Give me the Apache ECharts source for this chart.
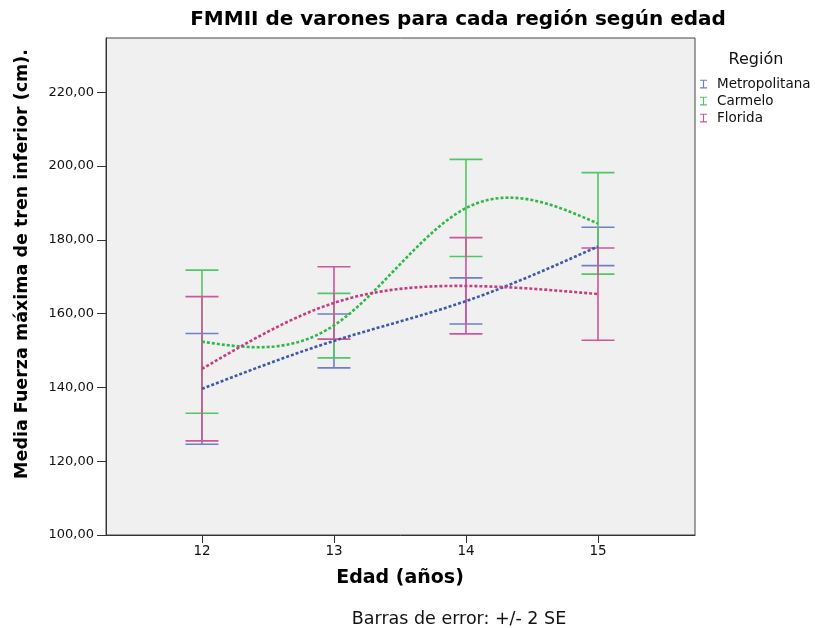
<!DOCTYPE html>
<html>
<head>
<meta charset="utf-8">
<title>FMMII de varones</title>
<script src="https://cdn.jsdelivr.net/npm/echarts@6/dist/echarts.min.js"></script>
<style>
  html, body { margin: 0; padding: 0; background: #fff; }
  #chart { width: 815px; height: 628px; }
</style>
</head>
<body>
<div id="chart"></div>
<script>
// edades (eje x)
var edades = [12, 13, 14, 15];
var regiones = ['Metropolitana', 'Carmelo', 'Florida'];

// medias por región
var mediaMetro = [139.6, 152.6, 163.4, 178.2];
var mediaCarmelo = [152.4, 156.8, 188.6, 184.4];
var mediaFlorida = [145.0, 162.9, 167.5, 165.3];

// extremos de las barras de error (+/- 2 SE)
var infMetro = [124.6, 145.3, 157.2, 173.0];
var supMetro = [154.6, 159.9, 169.7, 183.4];
var infCarmelo = [133.0, 148.0, 175.5, 170.7];
var supCarmelo = [171.8, 165.5, 201.8, 198.2];
var infFlorida = [125.5, 153.1, 154.5, 152.8];
var supFlorida = [164.6, 172.7, 180.6, 177.8];

var yTicks = [100, 120, 140, 160, 180, 200, 220];
var xTicks = [12, 13, 14, 15];

var colLinea = ['#3E58AC', '#2EB848', '#C83C82'];
var colBarra = ['#6F7FC6', '#52C664', '#D0559A'];
var fuente = 'DejaVu Sans, Verdana, sans-serif';

var fmt = function (v) {
    return v.toFixed(2).replace('.', ',');
};

var puntos = function (medias) {
    return edades.map(function (e, i) { return [e, medias[i]]; });
};
var barras = function (inf, sup) {
    return edades.map(function (e, i) { return [e, inf[i], sup[i]]; });
};

/**
 * segundas derivadas del spline cúbico natural (como la interpolación de SPSS)
 */
var derivadas = function (xs, ys) {
    var n = xs.length, M = new Array(n).fill(0);
    if (n < 3) return M;
    var a = [], b = [], c = [], d = [];
    for (var i = 1; i < n - 1; i++) {
        var h0 = xs[i] - xs[i - 1], h1 = xs[i + 1] - xs[i];
        a.push(h0); b.push(2 * (h0 + h1)); c.push(h1);
        d.push(6 * ((ys[i + 1] - ys[i]) / h1 - (ys[i] - ys[i - 1]) / h0));
    }
    var m = b.length;
    for (var j = 1; j < m; j++) {
        var w = a[j] / b[j - 1];
        b[j] -= w * c[j - 1];
        d[j] -= w * d[j - 1];
    }
    var sol = new Array(m);
    sol[m - 1] = d[m - 1] / b[m - 1];
    for (var k = m - 2; k >= 0; k--) sol[k] = (d[k] - c[k] * sol[k + 1]) / b[k];
    for (var t = 0; t < m; t++) M[t + 1] = sol[t];
    return M;
};

/**
 * dibuja la curva de medias entera en el primer elemento
 */
var renderCurva = function (color, medias) {
    var M = derivadas(edades, medias);
    return function (params, api) {
        if (params.dataIndex !== 0) return { type: 'group', children: [] };
        var pts = [];
        for (var i = 0; i < edades.length - 1; i++) {
            var x0 = edades[i], x1 = edades[i + 1], h = x1 - x0;
            var pasos = 40;
            for (var s = (i === 0 ? 0 : 1); s <= pasos; s++) {
                var x = x0 + h * s / pasos;
                var A = (x1 - x) / h, B = (x - x0) / h;
                var y = A * medias[i] + B * medias[i + 1] +
                    ((A * A * A - A) * M[i] + (B * B * B - B) * M[i + 1]) * h * h / 6;
                pts.push(api.coord([x, y]));
            }
        }
        return {
            type: 'polyline',
            shape: { points: pts },
            style: { stroke: color, lineWidth: 2.6, fill: null, lineDash: [3, 2] }
        };
    };
};

/**
 * dibuja una barra de error con sus topes
 */
var renderBarra = function (color) {
    return function (params, api) {
        var x = api.value(0);
        var a = api.coord([x, api.value(1)]);
        var b = api.coord([x, api.value(2)]);
        var w = 16.5;
        var st = { stroke: color, lineWidth: 1.6 };
        return {
            type: 'group',
            children: [
                { type: 'line', shape: { x1: a[0], y1: a[1], x2: b[0], y2: b[1] }, style: st },
                { type: 'line', shape: { x1: a[0] - w, y1: a[1], x2: a[0] + w, y2: a[1] }, style: st },
                { type: 'line', shape: { x1: b[0] - w, y1: b[1], x2: b[0] + w, y2: b[1] }, style: st }
            ]
        };
    };
};

var medias = [mediaMetro, mediaCarmelo, mediaFlorida];
var infs = [infMetro, infCarmelo, infFlorida];
var sups = [supMetro, supCarmelo, supFlorida];

var series = [];
regiones.forEach(function (r, k) {
    series.push({
        name: r,
        type: 'custom',
        renderItem: renderBarra(colBarra[k]),
        itemStyle: { color: colBarra[k] },
        encode: { x: 0, y: [1, 2] },
        data: barras(infs[k], sups[k]),
        z: 2
    });
});
regiones.forEach(function (r, k) {
    series.push({
        name: r,
        type: 'custom',
        renderItem: renderCurva(colLinea[k], medias[k]),
        itemStyle: { color: colBarra[k] },
        encode: { x: 0, y: 1 },
        data: puntos(medias[k]),
        z: 3
    });
});

var iconoI = 'path://M0,0H8V1.3H4.65V8.7H8V10H0V8.7H3.35V1.3H0Z';

var myChart = echarts.init(document.getElementById('chart'));
var option = {
    animation: false,
    textStyle: { fontFamily: fuente },
    legend: {
        orient: 'vertical',
        left: 700,
        top: 77,
        padding: 0,
        itemWidth: 7,
        itemHeight: 10,
        itemGap: 3,
        selectedMode: false,
        textStyle: { fontSize: 13.5, lineHeight: 14, color: '#111', fontFamily: fuente, padding: [0, 0, 0, 5] },
        data: regiones.map(function (r, k) {
            return { name: r, icon: iconoI, itemStyle: { color: colBarra[k] } };
        })
    },
    graphic: [
        {
            type: 'text', x: 458, y: 20,
            style: {
                text: 'FMMII de varones para cada región según edad', fontSize: 20, fontWeight: 'bold',
                fill: '#000', fontFamily: fuente, align: 'center', verticalAlign: 'middle'
            }
        },
        {
            type: 'text', x: 756, y: 60,
            style: { text: 'Región', fontSize: 16, fill: '#111', fontFamily: fuente, align: 'center', verticalAlign: 'middle' }
        },
        {
            type: 'text', x: 22, y: 264, rotation: Math.PI / 2,
            style: {
                text: 'Media Fuerza máxima de tren inferior (cm).', fontSize: 17.5, fontWeight: 'bold',
                fill: '#000', fontFamily: fuente, align: 'center', verticalAlign: 'middle'
            }
        },
        {
            type: 'text', x: 400, y: 578,
            style: { text: 'Edad (años)', fontSize: 19, fontWeight: 'bold', fill: '#000', fontFamily: fuente, align: 'center', verticalAlign: 'middle' }
        },
        {
            type: 'text', x: 459, y: 619,
            style: { text: 'Barras de error: +/- 2 SE', fontSize: 17.5, fill: '#111', fontFamily: fuente, align: 'center', verticalAlign: 'middle' }
        }
    ],
    grid: {
        left: 106,
        right: 120,
        top: 38,
        bottom: 93,
        show: true,
        backgroundColor: '#f0f0f0',
        borderColor: '#444',
        borderWidth: 1
    },
    xAxis: {
        type: 'value',
        min: 11.273,
        max: 15.735,
        axisLine: { lineStyle: { color: '#333', width: 1 } },
        axisTick: { show: true, length: 8, customValues: xTicks, lineStyle: { color: '#333' } },
        axisLabel: { customValues: xTicks, fontSize: 13.5, color: '#111', margin: 9 },
        splitLine: { show: false }
    },
    yAxis: {
        type: 'value',
        min: 100,
        max: 234.7,
        axisLine: { show: true, lineStyle: { color: '#333', width: 1 } },
        axisTick: { show: true, length: 9, customValues: yTicks, lineStyle: { color: '#333' } },
        axisLabel: { customValues: yTicks, fontSize: 13, color: '#111', margin: 12, formatter: fmt },
        splitLine: { show: false }
    },
    series: series
};
myChart.setOption(option);
</script>
</body>
</html>
